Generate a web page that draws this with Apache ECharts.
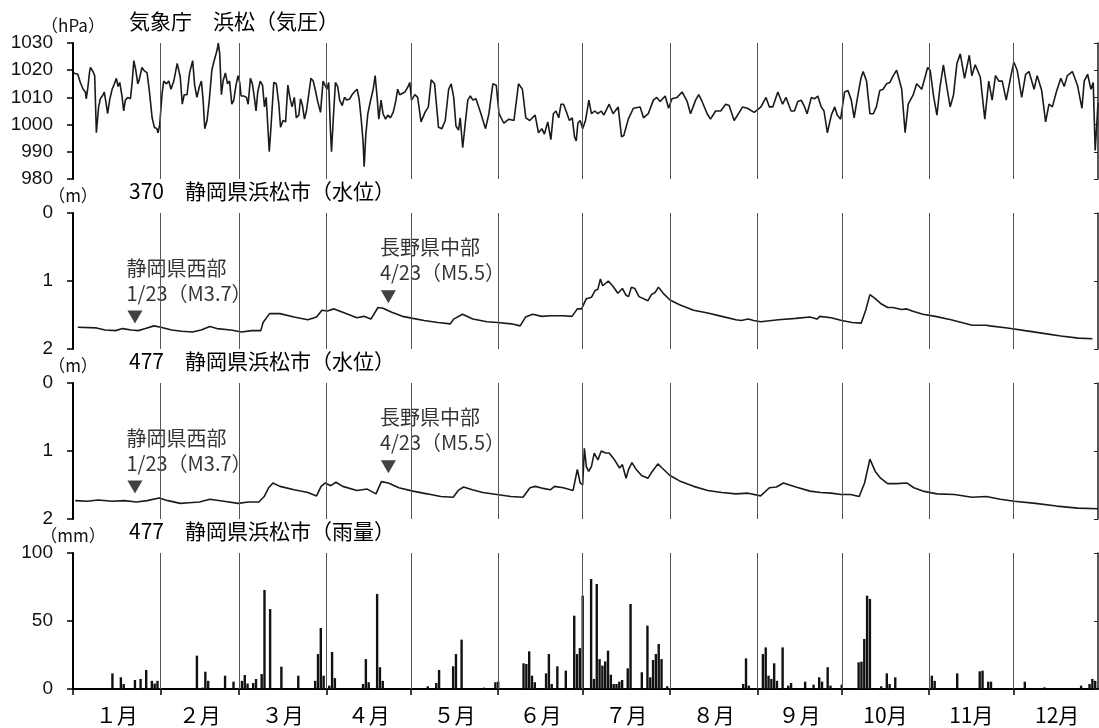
<!DOCTYPE html>
<html><head><meta charset="utf-8">
<script src="https://cdn.jsdelivr.net/npm/echarts@6/dist/echarts.min.js"></script>
<style>html,body{margin:0;padding:0;background:#fff}#c{width:1099px;height:728px}</style>
</head><body><div id="c"></div>
<script>
// ---- data ----
const monthStarts = [0,31,59,90,120,151,181,212,243,273,304,334,365];
const lastDay = 364; // Dec 31 (day index from Jan 1)
const monthLabels = ['１月','２月','３月','４月','５月','６月','７月','８月','９月','10月','11月','12月'];
const panelTitles = ['気象庁　浜松（気圧）','370　静岡県浜松市（水位）','477　静岡県浜松市（水位）','477　静岡県浜松市（雨量）'];
const unitNames = ['（hPa）','（m）','（m）','（mm）'];
const pressTicks = [980, 1030, 10];
const levelTicks = [0, 2, 1];
const rainTicks = [0, 100, 50];

// pressure (hPa): [day of year, value]
const pressure = [[0.2,1019],[1.7,1018.5],[2.6,1015.5],[3.6,1013],[4.4,1012],[4.7,1009.5],[5.2,1013],[5.9,1019.5],[6.2,1021],[7.1,1019.5],[7.7,1018],[8.3,997],[9.1,1006.5],[9.7,1009.5],[10.7,1011],[11.1,1012],[11.8,1007.5],[12.3,1004],[13.0,1009],[13.9,1013],[14.7,1015],[15.4,1017],[16.0,1014],[16.6,1015.5],[17.4,1010.5],[18.0,1005],[18.6,1009],[19.4,1010],[20.4,1009.5],[21.0,1015.5],[21.6,1023.5],[22.3,1020],[23.0,1015],[23.4,1016],[24.5,1021],[25.1,1020],[26.3,1019],[27.1,1012.5],[28.1,1002.5],[28.9,999],[29.8,998.5],[30.2,997],[30.8,1000],[31.6,1011],[32.2,1016],[33.2,1015],[34.0,1016],[34.8,1013],[35.8,1016],[37.0,1022.5],[37.5,1023],[38.1,1017.5],[38.8,1007.5],[39.5,1011],[40.5,1011],[41.4,1019],[42.5,1023.5],[43.2,1014.5],[44.0,1010],[44.9,1014],[45.6,1016],[46.2,1009],[46.8,998.5],[47.6,1001.5],[48.4,1009],[49.3,1020],[50.0,1023],[50.6,1023],[51.2,1027.5],[51.6,1030],[52.1,1026],[52.7,1011],[53.3,1016],[54.1,1019],[54.9,1015],[55.6,1016],[56.4,1007.5],[57.1,1009],[57.8,1014],[58.6,1018],[59.2,1015.5],[59.7,1010.5],[60.6,1010.5],[61.6,1010],[62.2,1007.5],[63.0,1017],[63.7,1015],[64.4,1010],[65.0,1005],[65.6,1012],[66.5,1016],[67.3,1014.5],[68.0,1006.5],[68.6,1010],[69.7,990],[70.3,999],[71.3,1015.5],[72.2,1015],[73.1,1007.5],[73.7,999],[74.6,1001.5],[75.5,1001],[76.3,1014.5],[77.0,1010],[77.8,1006.5],[78.6,1010],[79.3,1002.5],[80.2,1003.5],[80.8,1009.5],[81.5,1007],[82.2,1002],[82.9,1005],[83.7,1011],[84.5,1017],[85.3,1016],[86.0,1013],[86.9,1008.5],[87.9,1004.5],[88.8,1016],[89.4,1016],[90.2,1013],[90.8,1015.5],[91.4,998.5],[91.8,990],[92.4,1001.5],[93.2,1015.5],[94.0,1014],[94.7,1009],[95.6,1007],[96.4,1010],[97.3,1009],[98.3,1009.5],[99.1,1011],[99.9,1012],[100.9,1013],[101.6,1009.5],[102.3,1002.5],[103.0,994],[103.4,984.5],[104.0,996.5],[104.7,1004],[105.6,1008.5],[106.6,1013],[107.3,1018],[108.0,1010],[108.6,1002],[109.4,1009],[110.1,1004],[111.0,1002],[111.8,1003.5],[112.7,1002.5],[113.7,1004.5],[114.6,1008.5],[115.3,1013],[116.0,1011],
[116.7,1010.5],[117.9,1012],[119.0,1014],[119.6,1015.5],[120.2,1009],[121.4,1011],[122.4,1010],[123.6,1001],[125.0,1004.5],[126.2,1006.5],[127.2,1016.5],[128.4,1015],[129.8,999],[131.0,998.5],[132.2,1001.5],[133.4,1013],[134.3,1015],[135.2,1010],[136.0,999.5],[136.9,998],[137.5,1002.5],[138.4,991.5],[139.3,1000.5],[140.2,1009],[141.1,1010.5],[142.0,1009],[143.1,1009.5],[144.7,1004.5],[146.5,998.5],[147.7,1004],[149.1,1015],[150.3,1014.5],[151.3,1004],[153.0,1000.5],[154.8,1002],[156.6,1001.5],[158.2,1015],[159.6,1013],[160.8,1002.5],[162.2,1001.5],[164.1,1003.5],[165.3,997],[166.5,998.5],[167.4,996.5],[168.6,1001],[169.7,994.5],[170.6,1004],[171.5,1005],[172.5,1002.5],[173.3,1007.5],[174.2,1007.5],[175.1,1005],[176.3,1001.5],[177.3,1002.5],[178.1,995.5],[178.7,994],[179.3,1000.5],[180.1,1001.5],[181.0,998.5],[182.0,1001.5],[183.2,1009],[184.1,1004],[185.3,1005],[186.4,1004],[187.6,1005],[188.5,1003.5],[190.4,1007.5],[191.8,1004],[193.6,1006.5],[194.8,995.5],[195.6,996],[197.2,1002],[199.0,1006],[201.4,1006.5],[202.6,1002.5],[204.3,1004],[206.1,1009],[207.3,1010],[208.5,1008.5],[210.3,1010.5],[211.5,1006],[212.7,1009.5],[214.5,1010],[216.3,1012],[218.1,1008.5],[219.3,1004],[221.1,1009],[222.2,1011],[223.4,1008.5],[225.2,1004],[226.4,1002],[228.2,1005],[230.0,1005],[231.8,1007.5],[233.0,1007],[234.8,1001.5],[236.0,1003.5],[237.8,1006.5],[239.5,1006],[241.9,1004.5],
[244.3,1006.5],[246.1,1010],[247.3,1006.5],[248.5,1006.5],[250.3,1012],[252.0,1007.5],[253.2,1010],[255.0,1005],[256.2,1005],[257.4,1008.5],[258.6,1009],[259.8,1006.5],[260.7,1004],[262.2,1010],[263.3,1009.5],[264.5,1010.5],[265.7,1006.5],[266.7,1005],[267.9,997],[269.3,1003.5],[270.5,1006.5],[271.4,1003.5],[272.6,1002],[274.0,1012],[275.2,1012.5],[276.4,1009],[277.4,1002.5],[278.6,1010],[279.8,1017],[280.6,1019.5],[281.8,1016],[283.0,1004],[284.2,1004],[285.3,1006.5],[286.5,1012.5],[287.7,1013],[288.9,1015],[290.1,1015.5],[291.3,1018],[292.5,1020],[293.1,1020],[294.3,1013],[295.5,997],[296.6,1007.5],[298.4,1011],[299.6,1015],[301.4,1013],[302.6,1017.5],[303.5,1021],[304.4,1020],[305.6,1010.5],[306.8,1003.5],[307.9,1014],[309.1,1022],[310.3,1014],[311.5,1006.5],[312.7,1011],[313.9,1022.5],[315.1,1026],[316.6,1017],[318.3,1025.5],[319.2,1018],[320.4,1022],[322.2,1017.5],[323.8,1002],[325.2,1016],[326.4,1009],[327.6,1018],[328.8,1016],[330.0,1016],[331.4,1009],[332.9,1017],[334.1,1023],[335.3,1020],[336.9,1010],[338.3,1018.5],[339.5,1019.5],[341.3,1013],[342.4,1018],[344.0,1012.5],[345.4,1001],[346.6,1007.5],[347.8,1006.5],[349.2,1012],[350.8,1017],[352.0,1014],[353.1,1018],[354.9,1019.5],[356.7,1014.5],[358.3,1006],[359.1,1016],[360.3,1018.5],[361.5,1013],[362.3,1015.5],[363.0,990.5],[363.5,999],[364,1008]];

// water level 370 (m below surface): [day, value]
const level370 = [[1.7,1.68],[8.3,1.69],[11.4,1.72],[15.1,1.73],[17.6,1.70],[20.7,1.72],[23.2,1.73],[25.7,1.70],[28.8,1.66],[31.2,1.68],[35.0,1.72],[38.7,1.74],[42.4,1.75],[45.5,1.72],[48.6,1.67],[51.1,1.70],[56.1,1.72],[59.8,1.75],[63.5,1.73],[66.7,1.73],[67.5,1.61],[69.8,1.48],[73.5,1.48],[78.5,1.53],[83.4,1.57],[86.5,1.53],[88.4,1.43],[90.3,1.44],[92.7,1.41],[95.8,1.46],[100.8,1.54],[103.3,1.52],[105.8,1.56],[108.3,1.39],[110.1,1.40],[113.2,1.46],[117.0,1.52],[120.7,1.55],[124.7,1.58],[129.6,1.61],[134.0,1.63],[135.2,1.56],[138.3,1.49],[142.0,1.56],[147.0,1.60],[150.7,1.61],[155.7,1.63],[158.8,1.66],[160.7,1.53],[163.2,1.49],[166.5,1.52],[169.5,1.51],[174.1,1.51],[177.2,1.52],[179.1,1.41],[180.6,1.41],[182.3,1.26],[184.1,1.24],[185.4,1.14],[186.4,1.12],[187.3,0.97],[188.1,1.07],[190.1,1.00],[191.6,1.07],[193.5,1.18],[194.1,1.17],[195.1,1.11],[196.4,1.21],[197.3,1.23],[198.3,1.09],[199.5,1.11],[201.0,1.23],[204.2,1.29],[205.4,1.20],[206.7,1.17],[207.9,1.09],[209.8,1.19],[212.0,1.28],[215.4,1.35],[220.4,1.43],[225.4,1.47],[230.4,1.52],[235.4,1.57],[237.3,1.58],[239.8,1.56],[241.7,1.58],[244.2,1.60],[250.5,1.57],[256.7,1.55],[261.7,1.53],[264.2,1.56],[265.2,1.52],[269.2,1.54],[273.0,1.58],[276.7,1.61],[279.9,1.62],[281.5,1.43],[283.0,1.20],[284.9,1.26],[286.8,1.33],[289.3,1.39],[291.1,1.39],[294.3,1.42],[296.1,1.41],[298.0,1.44],[301.8,1.49],[306.2,1.52],[311.8,1.57],[319.3,1.65],[324.3,1.65],[325.6,1.66],[331.8,1.69],[338.1,1.73],[344.6,1.77],[350.8,1.81],[357.0,1.84],[362.0,1.85]];

// water level 477 (m below surface): [day, value]
const level477 = [[0.8,1.73],[5.2,1.74],[8.9,1.72],[13.9,1.74],[18.2,1.73],[22.6,1.75],[26.3,1.73],[30.6,1.69],[33.7,1.73],[38.1,1.77],[41.2,1.76],[44.9,1.75],[48.6,1.71],[53.6,1.74],[58.6,1.77],[62.3,1.75],[66.0,1.75],[67.9,1.67],[69.5,1.54],[71.0,1.47],[73.5,1.52],[78.5,1.57],[83.4,1.61],[86.5,1.66],[88.1,1.52],[89.6,1.47],[91.5,1.51],[93.4,1.46],[95.8,1.52],[100.8,1.58],[104.5,1.56],[107.6,1.63],[109.5,1.45],[112.0,1.47],[115.7,1.54],[120.7,1.59],[125.7,1.63],[130.6,1.67],[135.0,1.68],[136.8,1.58],[138.7,1.53],[141.8,1.57],[145.5,1.61],[150.5,1.64],[155.5,1.67],[159.8,1.68],[162.3,1.54],[164.2,1.52],[167.0,1.55],[169.5,1.57],[171.0,1.52],[174.1,1.54],[177.6,1.58],[179.1,1.27],[180.1,1.47],[181.0,1.50],[181.6,0.96],[182.3,1.23],[183.1,1.30],[184.1,1.23],[185.1,1.03],[186.4,1.13],[187.6,1.00],[189.1,1.03],[190.4,1.03],[192.3,1.13],[194.1,1.25],[195.1,1.20],[196.4,1.40],[197.3,1.27],[198.5,1.17],[199.8,1.26],[201.9,1.36],[204.2,1.40],[205.7,1.30],[207.7,1.19],[209.2,1.25],[212.0,1.36],[215.4,1.44],[220.4,1.52],[225.4,1.58],[230.4,1.61],[235.4,1.63],[239.8,1.62],[244.2,1.66],[247.3,1.54],[249.8,1.53],[252.3,1.47],[256.7,1.53],[261.7,1.59],[265.5,1.61],[269.2,1.62],[272.7,1.64],[276.1,1.64],[279.2,1.67],[281.1,1.47],[283.0,1.12],[284.9,1.30],[286.8,1.40],[289.3,1.48],[292.4,1.48],[296.1,1.47],[298.6,1.54],[301.8,1.59],[306.8,1.63],[313.0,1.64],[319.3,1.68],[324.3,1.67],[329.3,1.71],[334.3,1.74],[341.8,1.77],[349.3,1.81],[356.8,1.84],[364,1.85]];

// daily rainfall 477 (mm): [day, value]
const rain477 = [[14,11.5],[17,8.6],[18,3.7],[22,6.6],[24,7.4],[26,14],[28,6],[29,4],[30,6],[44,24.5],[46,1],[47,12.7],[48,6],[54,9.8],[57,5.4],[60,6],[61,10.3],[62,4],[64,4.4],[65,7.4],[67,11],[68,72.8],[70,58.8],[74,16.4],[80,9.8],[86,6],[87,25.7],[88,44.9],[89,9.8],[91,2.5],[92,27.2],[93,8],[103,3.7],[104,22],[105,5],[108,69.9],[109,16],[110,6],[126,2],[129,4.4],[130,14],[135,16.7],[136,25.7],[138,36.3],[146,1],[150,5],[151,5.4],[160,18.9],[161,18.4],[162,27.7],[163,9.8],[164,5],[168,11.5],[169,25.7],[170,3.7],[172,16.7],[175,13.5],[178,53.9],[179,25.7],[180,30.1],[181,68.6],[184,80.9],[185,7.4],[186,77.2],[187,22],[188,17.2],[189,20.3],[190,28.2],[191,10.5],[192,3.7],[193,3.7],[194,5.4],[195,6.6],[197,15.2],[198,62.5],[202,12.3],[204,46.6],[205,8.6],[206,21.3],[207,25.7],[208,33.1],[209,22],[211,2],[238,3.7],[239,22.5],[240,2.5],[245,25.7],[246,30.6],[247,9.8],[248,7.4],[249,18.9],[250,6],[252,30.6],[254,2.5],[255,4.4],[260,5.4],[263,3.2],[265,8.6],[266,5.4],[268,16],[269,2.5],[273,3.2],[279,19.6],[280,20.1],[281,36.8],[282,68.6],[283,66.2],[286,0.7],[287,2],[289,11.5],[290,3.7],[292,8.6],[305,9.8],[306,6],[314,11.5],[322,13],[323,13.5],[325,5.4],[326,5.4],[338,5.4],[345,1.2],[358,2.5],[361,3.7],[362,7.4],[363,6]];

// earthquakes
const quakeDays = [22, 112];
const quakeNames = ['静岡県西部', '長野県中部'];
const quakeInfo = ['1/23（M3.7）', '4/23（M5.5）'];
const quakeMarkLevel = [1.53, 1.23];

// ---- chart ----
const NUM = '"Liberation Sans", Arial, sans-serif';
const JP = '"Noto Sans CJK JP", sans-serif';
const INK = '#111';
const tops = [43, 213, 383, 553];
const H = 136;
const monthMid = monthLabels.map((_, i) => (monthStarts[i] + monthStarts[i + 1]) / 2);
const monthLines = monthStarts.slice(1, 12).map(d => ({ xAxis: d }));
const markLine = {
  silent: true, symbol: ['none', 'none'], label: { show: false }, animation: false,
  lineStyle: { color: '#555', width: 1, type: 'solid' }, data: monthLines
};

const grids = tops.map(t => ({ left: 73, right: 1, top: t, height: H }));
const xAxes = tops.map((t, i) => {
  const last = i === 3;
  return {
    gridIndex: i, type: 'value', min: monthStarts[0], max: lastDay,
    axisLine: { show: last, onZero: false, lineStyle: { color: '#000', width: 2 } },
    axisTick: { show: last, customValues: monthStarts.slice(0, 12), length: 6, lineStyle: { color: '#000', width: 1.5 } },
    axisLabel: {
      show: last, customValues: monthMid, margin: 16,
      fontFamily: JP, fontSize: 21, color: '#000',
      formatter: v => { const k = monthMid.findIndex(m => Math.abs(m - v) < 0.01); return k >= 0 ? monthLabels[k] : ''; }
    },
    splitLine: { show: false }
  };
});
const tickSets = [pressTicks, levelTicks, levelTicks, rainTicks];
const yAxes = [];
tickSets.forEach((tk, i) => {
  const inv = (i === 1 || i === 2);
  yAxes.push({
    gridIndex: i, type: 'value', position: 'left', min: tk[0], max: tk[1], interval: tk[2], inverse: inv,
    name: unitNames[i], nameLocation: inv ? 'start' : 'end', nameGap: 8,
    nameTextStyle: { fontFamily: JP, fontSize: 17, color: INK, align: 'center' },
    axisLine: { show: true, lineStyle: { color: '#000', width: 2 } },
    axisTick: { show: true, length: 6, lineStyle: { color: '#000', width: 1.5 } },
    axisLabel: { fontFamily: NUM, fontSize: 19, color: INK, margin: 20, formatter: v => String(v) },
    splitLine: { show: false }
  });
  yAxes.push({
    gridIndex: i, type: 'value', position: 'right', min: tk[0], max: tk[1], interval: tk[2], inverse: inv,
    axisLine: { show: true, lineStyle: { color: '#222', width: 1.5 } },
    axisTick: { show: true, inside: true, length: 4, lineStyle: { color: '#222', width: 1 } },
    axisLabel: { show: false }, splitLine: { show: false }
  });
});

const lineStyle = { color: '#1a1a1a', width: 1.6 };
const quakePts = quakeDays.map((d, i) => [d, quakeMarkLevel[i]]);
const quakeSeries = (xi, yi) => ({
  type: 'scatter', xAxisIndex: xi, yAxisIndex: yi, data: quakePts,
  symbol: 'path://M0,0L16,0L8,14Z', symbolSize: [15, 13],
  itemStyle: { color: '#111' }, silent: true,
  label: {
    show: true, position: [-1, -55], align: 'left', verticalAlign: 'top',
    fontFamily: JP, fontSize: 20, lineHeight: 25, color: '#000',
    formatter: p => quakeNames[p.dataIndex] + '\n' + quakeInfo[p.dataIndex]
  }
});

const option = {
  animation: false,
  backgroundColor: '#fff',
  title: panelTitles.map((t, i) => ({
    text: t, left: 129, top: tops[i] - 32, padding: 0,
    textStyle: { fontFamily: JP, fontSize: 21, fontWeight: 'normal', color: '#000' }
  })),
  grid: grids,
  xAxis: xAxes,
  yAxis: yAxes,
  series: [
    { type: 'line', xAxisIndex: 0, yAxisIndex: 0, data: pressure, showSymbol: false, lineStyle, markLine },
    { type: 'line', xAxisIndex: 1, yAxisIndex: 2, data: level370, showSymbol: false, lineStyle, markLine },
    { type: 'line', xAxisIndex: 2, yAxisIndex: 4, data: level477, showSymbol: false, lineStyle, markLine },
    { type: 'bar', xAxisIndex: 3, yAxisIndex: 6, data: rain477, barWidth: 2.4, itemStyle: { color: '#111' }, markLine },
    quakeSeries(1, 2),
    quakeSeries(2, 4)
  ]
};
const chart = echarts.init(document.getElementById('c'), null, { renderer: 'canvas' });
chart.setOption(option);
</script>
</body></html>
